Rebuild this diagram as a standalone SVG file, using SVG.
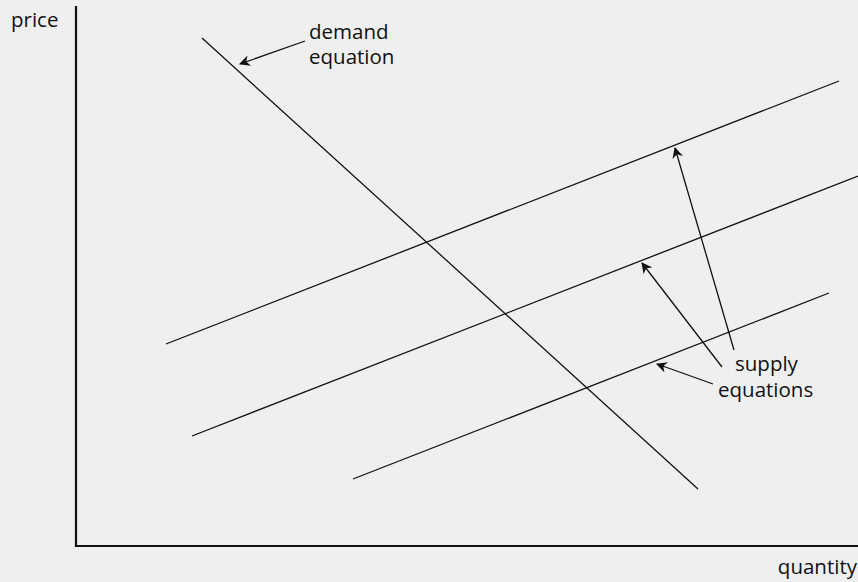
<svg xmlns="http://www.w3.org/2000/svg" width="858" height="582" viewBox="0 0 858 582">
<style>
.t{font-family:"Open Sans","Noto Sans","Liberation Sans",sans-serif;font-size:20.5px;fill:#111}
.ln{stroke:#111;stroke-width:1.3;fill:none}
.ax{stroke:#111;stroke-width:2.2;fill:none}
.ar{stroke:#111;stroke-width:1.3;fill:none;marker-end:url(#ah)}
</style>
<defs>
<marker id="ah" viewBox="0 0 10 10" refX="9" refY="5" markerWidth="11" markerHeight="11" markerUnits="userSpaceOnUse" orient="auto">
<path d="M0,0 L10,5 L0,10 L3,5 Z" fill="#111"/>
</marker>
</defs>
<rect width="858" height="582" fill="#efefef"/>
<g id="axes">
<path class="ax" d="M76,6 V546 H858"/>
<text class="t" x="11" y="27">price</text>
<text class="t" x="857" y="574" text-anchor="end">quantity</text>
</g>
<g id="demand">
<line class="ln" x1="202" y1="38" x2="698" y2="489"/>
<text class="t" x="309" y="39">demand</text>
<text class="t" x="309" y="64">equation</text>
</g>
<g id="supply1"><line class="ln" x1="166" y1="344" x2="839" y2="81"/></g>
<g id="supply2"><line class="ln" x1="192" y1="436" x2="858" y2="176"/></g>
<g id="supply3"><line class="ln" x1="353" y1="479" x2="829" y2="293"/></g>
<g id="supply-label">
<text class="t" x="735" y="371">supply</text>
<text class="t" x="718" y="397">equations</text>
</g>
<g id="connectors">
<line class="ar" x1="305" y1="41" x2="240" y2="64"/>
<line class="ar" x1="734" y1="350" x2="675" y2="148"/>
<line class="ar" x1="722" y1="367" x2="642" y2="263"/>
<line class="ar" x1="713" y1="384" x2="657" y2="364"/>
</g>
</svg>
